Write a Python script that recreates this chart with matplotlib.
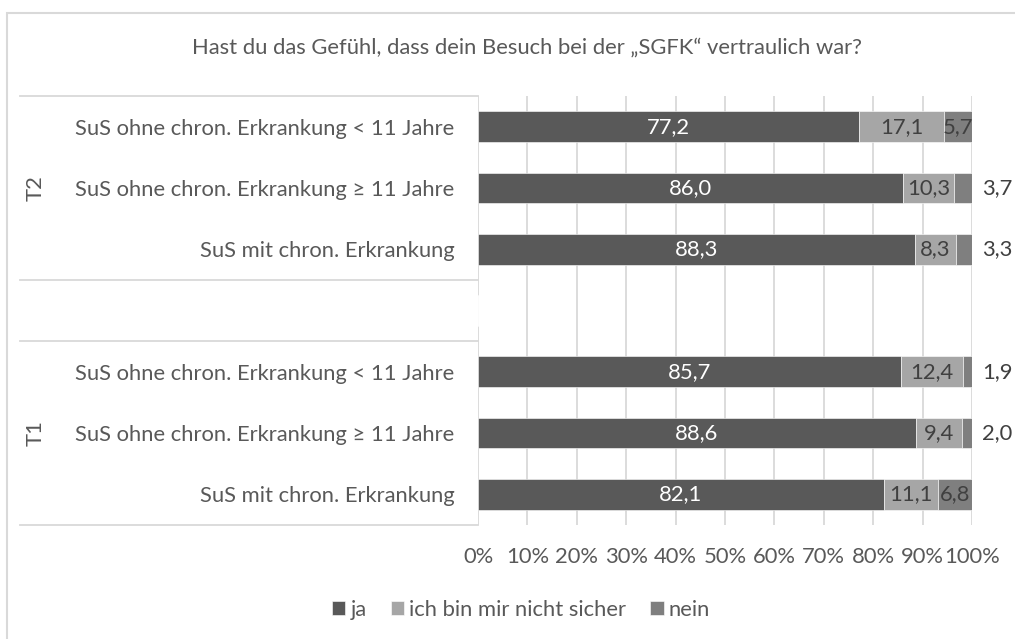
import numpy as np
import matplotlib.pyplot as plt
from matplotlib.patches import Rectangle

plt.rcParams['font.family'] = ['Lato', 'DejaVu Sans']

title = 'Hast du das Gefühl, dass dein Besuch bei der „SGFK“ vertraulich war?'
categories = ['SuS ohne chron. Erkrankung < 11 Jahre',
              'SuS ohne chron. Erkrankung ≥ 11 Jahre',
              'SuS mit chron. Erkrankung',
              '',
              'SuS ohne chron. Erkrankung < 11 Jahre',
              'SuS ohne chron. Erkrankung ≥ 11 Jahre',
              'SuS mit chron. Erkrankung']
groups = ['T2', 'T1']
series = ['ja', 'ich bin mir nicht sicher', 'nein']
ja = [77.2, 86.0, 88.3, np.nan, 85.7, 88.6, 82.1]
unsicher = [17.1, 10.3, 8.3, np.nan, 12.4, 9.4, 11.1]
nein = [5.7, 3.7, 3.3, np.nan, 1.9, 2.0, 6.8]
# labels of small "nein" values sit outside the bar in the reference
outside = [False, True, True, False, True, True, False]

colors = ['#595959', '#a6a6a6', '#7f7f7f']
label_colors = ['white', '#404040', '#404040']
text_col = '#595959'
grid_col = '#d9d9d9'
fs = 15.8

W, H = 1015, 639
fig = plt.figure(figsize=(W / 100, H / 100), dpi=100)
ax = fig.add_axes([478 / W, 1 - 525 / H, 494 / W, 429 / H])

vals = np.array([ja, unsicher, nein], dtype=float)
tot = np.nansum(vals, axis=0)
tot[tot == 0] = 1
pct = vals / tot * 100
y = np.arange(len(categories))

left = np.zeros(len(categories))
for i, name in enumerate(series):
    w = np.nan_to_num(pct[i])
    ax.barh(y, w, left=left, height=0.5, color=colors[i], label=name,
            edgecolor='white', linewidth=0.4, zorder=3)
    for j in range(len(y)):
        if np.isnan(vals[i, j]):
            continue
        txt = f'{vals[i, j]:.1f}'.replace('.', ',')
        if i == 2 and outside[j]:
            ax.text(102, y[j], txt, ha='left', va='center', fontsize=fs,
                    color='#404040', zorder=4)
        else:
            ax.text(left[j] + w[j] / 2, y[j], txt, ha='center', va='center',
                    fontsize=fs, color=label_colors[i], zorder=4)
    left += w

ax.set_xlim(0, 100)
ax.set_ylim(len(categories) - 0.5, -0.5)
ax.set_xticks(np.arange(0, 101, 10))
ax.set_xticklabels([f'{t}%' for t in range(0, 101, 10)], fontsize=fs, color=text_col)
ax.tick_params(axis='x', length=0, pad=16)
ax.set_yticks(y)
ax.set_yticklabels(categories, fontsize=fs, color=text_col)
ax.tick_params(axis='y', length=0, pad=17)
ax.grid(axis='x', color=grid_col, linewidth=1.3, zorder=0)
for s in ax.spines.values():
    s.set_visible(False)

# group dividers and group labels
ytr = ax.get_yaxis_transform()
x0 = (20 - 478) / 494
for yy in [-0.5, 2.5, 3.5, 6.5]:
    ax.plot([x0, 0], [yy, yy], color=grid_col, linewidth=1.3, transform=ytr,
            clip_on=False)
for k, g in enumerate(groups):
    ax.text((36 - 478) / 494, 1 + 4 * k, g, rotation=90, ha='center', va='center',
            fontsize=fs, color=text_col, transform=ytr)

fig.text(527 / W, 1 - 48 / H, title, ha='center', va='center', fontsize=fs,
         color=text_col)

fig.legend(loc='center', bbox_to_anchor=(521 / W, 1 - 610 / H), ncol=3,
           frameon=False, fontsize=fs, handlelength=0.6, handleheight=0.6,
           handletextpad=0.25, columnspacing=1.1, labelcolor=text_col)

# outer chart border (cropped at right and bottom)
fig.patches.append(Rectangle((7 / W, -0.05), 1.1, 1 - 13 / H + 0.05,
                             transform=fig.transFigure, fill=False,
                             edgecolor=grid_col, linewidth=1.5))

fig.savefig('out.png', dpi=100, facecolor='white')
